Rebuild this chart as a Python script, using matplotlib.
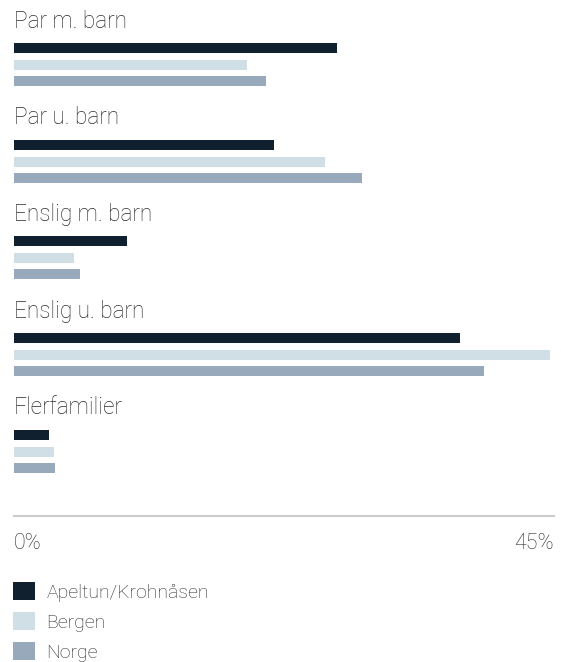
import matplotlib
matplotlib.use("Agg")
import matplotlib.pyplot as plt
from matplotlib.patches import Patch

categories = ["Par m. barn", "Par u. barn", "Enslig m. barn", "Enslig u. barn", "Flerfamilier"]
series_names = ["Apeltun/Krohnåsen", "Bergen", "Norge"]
apeltun = [26.9, 21.7, 9.4, 37.2, 2.9]
bergen = [19.4, 25.9, 5.0, 44.7, 3.3]
norge = [21.0, 29.0, 5.5, 39.2, 3.4]
x_ticks = [0, 45]
x_tick_labels = ["0%", "45%"]

colors = ["#10202f", "#d0dee6", "#97a9bb"]
text_color = "#2b2b2b"

plt.rcParams["font.family"] = ["Roboto", "DejaVu Sans"]

W, H = 561, 662
fig = plt.figure(figsize=(W / 100, H / 100), dpi=100)
ax = fig.add_axes([14 / W, 1 - 516 / H, 540 / W, 516 / H])

group_step = 96.7
label_off = 21
bar_offs = [48, 65, 81]
bar_h = 10

for i, cat in enumerate(categories):
    base = i * group_step
    ax.text(0, base + label_off, cat, fontsize=16.3, color=text_color,
            ha="left", va="center", fontweight="light")
    for s, vals in enumerate([apeltun, bergen, norge]):
        ax.barh(base + bar_offs[s], vals[i], height=bar_h, color=colors[s], left=0)

ax.set_xlim(0, 45)
ax.set_ylim(516, 0)
for sp in ["top", "left", "right"]:
    ax.spines[sp].set_visible(False)
ax.spines["bottom"].set_color("#cccccc")
ax.spines["bottom"].set_linewidth(1.5)
ax.set_yticks([])
ax.set_xticks(x_ticks)
ax.set_xticklabels(x_tick_labels, fontsize=15.5, color=text_color, fontweight="light")
ax.tick_params(axis="x", length=0, pad=12)
labs = ax.get_xticklabels()
labs[0].set_ha("left")
labs[-1].set_ha("right")

handles = [Patch(facecolor=c, edgecolor="none") for c in colors]
leg = fig.legend(handles, series_names, loc="upper left",
                 bbox_to_anchor=(13 / W, 1 - 582 / H), frameon=False,
                 fontsize=14, handlelength=1.12, handleheight=1.08,
                 handletextpad=0.6, labelspacing=0.52, borderaxespad=0,
                 borderpad=0)
for t in leg.get_texts():
    t.set_color(text_color)
    t.set_fontweight("light")

fig.savefig("out.png", dpi=100)
